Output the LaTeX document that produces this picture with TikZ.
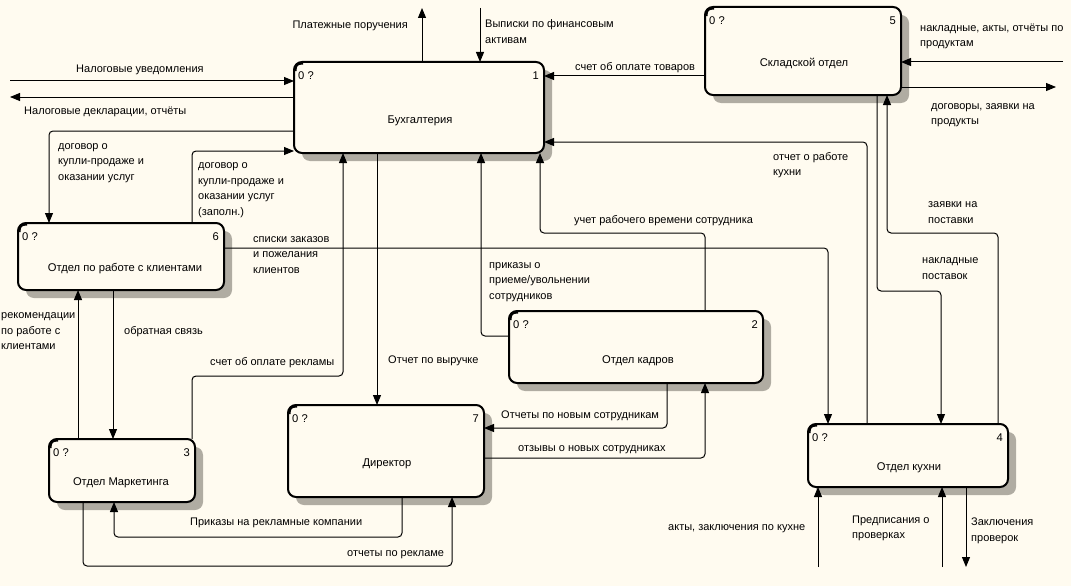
\documentclass[tikz,border=0pt]{standalone}
\usepackage{fontspec}
\setmainfont{Liberation Sans}
\usetikzlibrary{arrows.meta,shadows}
\definecolor{paper}{RGB}{255,251,240}
\definecolor{shade}{RGB}{176,172,162}

% process box: name, x1, y1, x2, y2, title, title x, title y, number
\newcommand\procbox[9]{%
  \node[proc, minimum width={#4-#2}, minimum height={#5-#3}] (#1) at ({(#2+#4)/2},{(#3+#5)/2}) {};
  \node[boxtxt] (#1-t) at (#7,#8) {#6};
  \node[boxtxt, anchor=west] (#1-z) at ({#2+4},{#3+12}) {0 ?};
  \node[boxtxt, anchor=east] (#1-n) at ({#4-5},{#3+12}) {#9};
  \draw[line width=2.6pt] ({#2+1.2},{#3+9}) .. controls ({#2+1.2},{#3+3}) and ({#2+3},{#3+1.2}) .. ({#2+9},{#3+1.2});
}

\begin{document}
\begin{tikzpicture}[x=1pt,y=-1pt,
  proc/.style={draw, line width=2pt, rounded corners=8pt, fill=paper,
    inner sep=0pt, outer sep=0pt,
    drop shadow={shadow xshift=8pt, shadow yshift=-8pt, fill=shade, opacity=1, draw=none}},
  boxtxt/.style={inner sep=0pt, yshift=-1.5pt, font=\fontsize{11.2}{13}\selectfont},
  flow/.style={line width=1pt, -{Triangle[length=10pt,width=8pt]}, rounded corners=4pt},
  lbl/.style={anchor=west, inner sep=0pt, yshift=-1.5pt, align=left, font=\fontsize{11}{15.5}\selectfont}]

\fill[paper] (0,0) rectangle (1071,586);
\useasboundingbox (0,0) rectangle (1071,586);

% activity boxes
\procbox{buh}{294}{62}{544}{153}{Бухгалтерия}{420}{119}{1}
\procbox{sklad}{705}{7}{901}{95}{Складской отдел}{804}{62}{5}
\procbox{klient}{18}{223}{224}{290}{Отдел по работе с клиентами}{125}{267}{6}
\procbox{market}{49}{439}{195}{502}{Отдел Маркетинга}{121}{481}{3}
\procbox{dir}{288}{405}{484}{497}{Директор}{387}{462}{7}
\procbox{kadr}{509}{311}{763}{383}{Отдел кадров}{638}{359}{2}
\procbox{kuh}{808}{424}{1008}{487}{Отдел кухни}{909}{466}{4}

% free ends at the border
\coordinate (taxin) at (10,81);
\coordinate (taxout) at (10,97);
\coordinate (payout) at (422,8);
\coordinate (stmtin) at (480,8);
\coordinate (skin) at (1063,62);
\coordinate (skout) at (1056,87);
\coordinate (kin1) at (818,567);
\coordinate (kin2) at (942,567);
\coordinate (kout) at (966,567);

% connectors
\draw[flow] (taxin) -- (buh.west |- taxin);
\draw[flow] (buh.west |- taxout) -- (taxout);
\draw[flow] (payout |- buh.north) -- (payout);
\draw[flow] (stmtin) -- (stmtin |- buh.north);
\draw[flow] (sklad.west |- 0,76) -- (buh.east |- 0,76);
\draw[flow] (kuh.north -| 867,0) -- (867,142) -- (buh.east |- 0,142);
\draw[flow] (kuh.north -| 998,0) -- (998,233) -- (887,233) -- (sklad.south -| 887,0);
\draw[flow] (sklad.south -| 877,0) -- (877,291) -- (941,291) -- (kuh.north -| 941,0);
\draw[flow] (skin) -- (sklad.east |- skin);
\draw[flow] (sklad.east |- skout) -- (skout);
\draw[flow] (buh.west |- 0,131) -- (49,131) -- (klient.north -| 49,0);
\draw[flow] (klient.north -| 192,0) -- (192,151) -- (buh.west |- 0,151);
\draw[flow] (klient.east |- 0,248) -- (828,248) -- (kuh.north -| 828,0);
\draw[flow] (kadr.west |- 0,336) -- (481,336) -- (buh.south -| 481,0);
\draw[flow] (kadr.north -| 705,0) -- (705,233) -- (540,233) -- (buh.south -| 540,0);
\draw[flow] (buh.south -| 377,0) -- (dir.north -| 377,0);
\draw[flow] (market.north -| 192,0) -- (192,376) -- (343,376) -- (buh.south -| 343,0);
\draw[flow] (market.north -| 78,0) -- (klient.south -| 78,0);
\draw[flow] (klient.south -| 113,0) -- (market.north -| 113,0);
\draw[flow] (dir.south -| 402,0) -- (402,537) -- (114,537) -- (market.south -| 114,0);
\draw[flow] (market.south -| 83,0) -- (83,566) -- (452,566) -- (dir.south -| 452,0);
\draw[flow] (kadr.south -| 667,0) -- (667,428) -- (dir.east |- 0,428);
\draw[flow] (dir.east |- 0,458) -- (705,458) -- (kadr.south -| 705,0);
\draw[flow] (kin1) -- (kin1 |- kuh.south);
\draw[flow] (kin2) -- (kin2 |- kuh.south);
\draw[flow] (kout |- kuh.south) -- (kout);

% connector labels
\node[lbl] (l1) at (76,68) {Налоговые уведомления};
\node[lbl] (l2) at (24,110) {Налоговые декларации, отчёты};
\node[lbl, anchor=east] (l3) at (408,24) {Платежные поручения};
\node[lbl] (l4) at (485,30) {Выписки по финансовым\\активам};
\node[lbl] (l5) at (575,66) {счет об оплате товаров};
\node[lbl] (l6) at (920,35) {накладные, акты, отчёты по\\продуктам};
\node[lbl] (l7) at (931,113.5) {договоры, заявки на\\продукты};
\node[lbl] (l8) at (773,163.5) {отчет о работе\\кухни};
\node[lbl] (l9) at (928,211) {заявки на\\поставки};
\node[lbl] (l10) at (922,267) {накладные\\поставок};
\node[lbl] (l11) at (58,161.5) {договор о\\купли-продаже и\\оказании услуг};
\node[lbl] (l12) at (198,188.5) {договор о\\купли-продаже и\\оказании услуг\\(заполн.)};
\node[lbl] (l13) at (253,253.5) {списки заказов\\и пожелания\\клиентов};
\node[lbl] (l14) at (574,219) {учет рабочего времени сотрудника};
\node[lbl] (l15) at (489,280.5) {приказы о\\приеме/увольнении\\сотрудников};
\node[lbl] (l16) at (1,330) {рекомендации\\по работе с\\клиентами};
\node[lbl] (l17) at (124,330) {обратная связь};
\node[lbl] (l18) at (210,361) {счет об оплате рекламы};
\node[lbl] (l19) at (388,359) {Отчет по выручке};
\node[lbl] (l20) at (501,414) {Отчеты по новым сотрудникам};
\node[lbl] (l21) at (518,448) {отзывы о новых сотрудниках};
\node[lbl] (l22) at (190,521) {Приказы на рекламные компании};
\node[lbl] (l23) at (347,553.5) {отчеты по рекламе};
\node[lbl] (l24) at (668,527.5) {акты, заключения по кухне};
\node[lbl] (l25) at (852,527) {Предписания о\\проверках};
\node[lbl] (l26) at (971,529.5) {Заключения\\проверок};

\end{tikzpicture}
\end{document}
